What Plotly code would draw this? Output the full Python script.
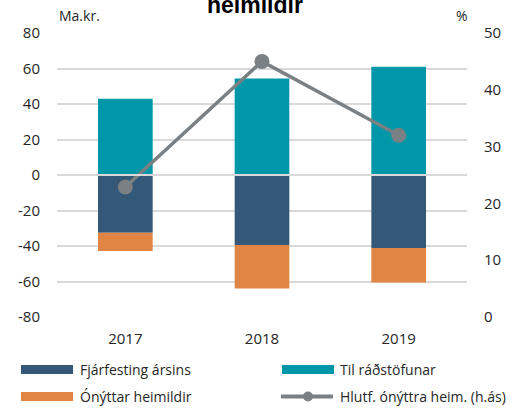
import plotly.graph_objects as go

years = ["2017", "2018", "2019"]
til_radstofunar = [43.0, 54.3, 61.0]
fjarfesting = [-32.5, -39.4, -41.1]
onyttar = [-10.3, -24.6, -19.5]
hlutfall = [22.9, 45.0, 32.0]

left_ticks = [-80, -60, -40, -20, 0, 20, 40, 60, 80]
left_ticklabels = ["-80", "-60", "-40", "-20", "0", "20", "40", "60", "80"]
right_ticks = [0, 10, 20, 30, 40, 50]

names = ["Fjárfesting ársins", "Til ráðstöfunar", "Ónýttar heimildir", "Hlutf. ónýttra heim. (h.ás)"]
colors = ["#335878", "#0097A9", "#E08544", "#7A8083"]

title_text = "heimildir"
left_unit = "Ma.kr."
right_unit = "%"

FONT = "Open Sans"
TXT = "#262626"

W, H = 520, 411
PL, PR, PT, PB = 57, 467, 33, 317  # plot area in screen pixels
PW, PH = PR - PL, PB - PT


def px2x(px):
    return (px - PL) / PW


def px2y(py):
    return (PB - py) / PH


fig = go.Figure()
fig.add_trace(go.Bar(x=years, y=til_radstofunar, name=names[1], marker_color=colors[1],
                     marker_line_width=0, width=0.4, showlegend=False))
fig.add_trace(go.Bar(x=years, y=fjarfesting, name=names[0], marker_color=colors[0],
                     marker_line_width=0, width=0.4, showlegend=False))
fig.add_trace(go.Bar(x=years, y=onyttar, name=names[2], marker_color=colors[2],
                     marker_line_width=0, width=0.4, showlegend=False))
fig.add_trace(go.Scatter(x=years, y=hlutfall, name=names[3], yaxis="y2", mode="lines+markers",
                         line=dict(color=colors[3], width=3.5),
                         marker=dict(color=colors[3], size=15), showlegend=False))

# zero line over the bars
fig.add_shape(type="line", xref="paper", yref="y", x0=0, x1=1, y0=0, y1=0,
              line=dict(color="#D9D9D9", width=2), layer="above")

# manual legend (screen pixel positions)
leg = [
    (names[0], colors[0], 21, 78, 369.5, "bar"),
    (names[1], colors[1], 282, 338, 369.5, "bar"),
    (names[2], colors[2], 21, 78, 396.5, "bar"),
    (names[3], colors[3], 281, 338, 396.5, "line"),
]
for label, col, px, tx, py, kind in leg:
    x0 = px2x(px)
    x1 = px2x(px + 52)
    yy = px2y(py)
    if kind == "bar":
        fig.add_shape(type="rect", xref="paper", yref="paper", x0=x0, x1=x1,
                      y0=px2y(py + 4.5), y1=px2y(py - 4.5), fillcolor=col, line_width=0)
    else:
        fig.add_shape(type="line", xref="paper", yref="paper", x0=x0, x1=x1,
                      y0=yy, y1=yy, line=dict(color=col, width=4))
        fig.add_shape(type="circle", xref="paper", yref="paper",
                      x0=px2x(px + 27 - 5), x1=px2x(px + 27 + 5),
                      y0=px2y(py + 5), y1=px2y(py - 5), fillcolor=col, line_width=0)
    fig.add_annotation(text=label, xref="paper", yref="paper", x=px2x(tx), y=yy,
                       xanchor="left", yanchor="middle", showarrow=False,
                       font=dict(family=FONT, size=14, color=TXT))

fig.update_layout(
    width=W, height=H,
    margin=dict(l=PL, r=W - PR, t=PT, b=H - PB, pad=0),
    paper_bgcolor="white", plot_bgcolor="white",
    barmode="relative", bargap=0.6,
    font=dict(family=FONT, size=15, color=TXT),
    xaxis=dict(type="category", showgrid=False, showline=False, ticks="",
               tickfont=dict(family=FONT, size=15, color=TXT), ticklabelstandoff=11),
    yaxis=dict(range=[-80, 80], tickmode="array", tickvals=left_ticks, ticktext=left_ticklabels,
               showgrid=True, gridcolor="#D9D9D9", gridwidth=2,
               zeroline=False, showline=False, ticks="",
               tickfont=dict(family=FONT, size=15, color=TXT), ticklabelstandoff=16),
    yaxis2=dict(range=[0, 50], tickmode="array", tickvals=right_ticks, overlaying="y", side="right",
                showgrid=False, zeroline=False, showline=False, ticks="",
                tickfont=dict(family=FONT, size=15, color=TXT), ticklabelstandoff=16),
    annotations=list(fig.layout.annotations) + [
        dict(text=left_unit, xref="paper", yref="paper", x=0, y=px2y(15),
             xanchor="left", yanchor="middle", showarrow=False,
             font=dict(family=FONT, size=14, color=TXT)),
        dict(text=right_unit, xref="paper", yref="paper", x=px2x(462), y=px2y(15),
             xanchor="center", yanchor="middle", showarrow=False,
             font=dict(family=FONT, size=14, color=TXT)),
        dict(text="<b>" + title_text + "</b>", xref="paper", yref="paper",
             x=px2x(255), y=px2y(5),
             xanchor="center", yanchor="middle", showarrow=False,
             font=dict(family="Liberation Sans", size=23, color="#000000")),
    ],
)

# remove the default 8px page margin so the figure fills the window exactly
fig.write_html("out.html", config={"displayModeBar": False},
               post_script="document.body.style.margin='0';document.body.style.overflow='hidden';")
